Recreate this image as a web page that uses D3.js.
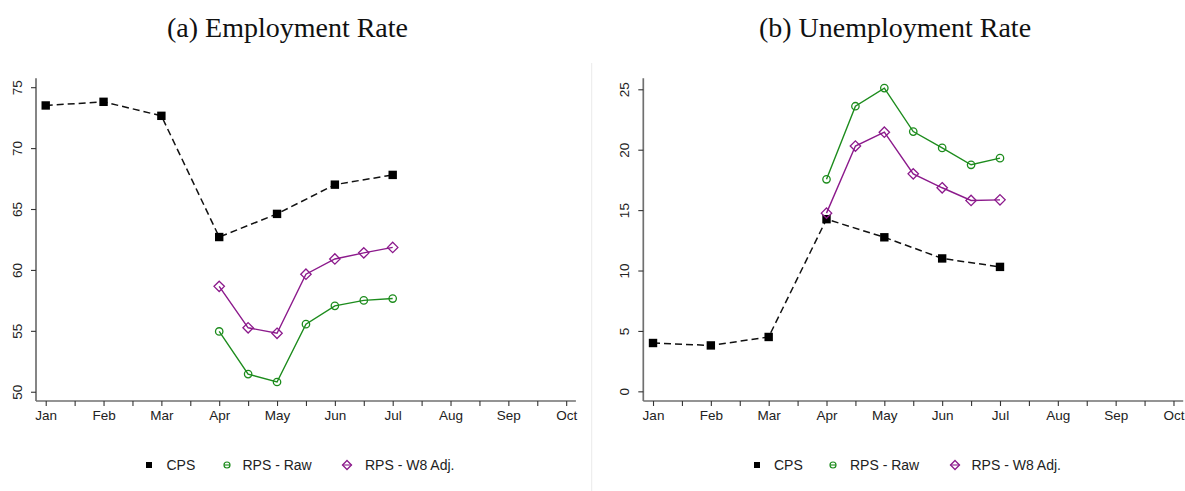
<!DOCTYPE html>
<html>
<head>
<meta charset="utf-8">
<script src="https://cdn.jsdelivr.net/npm/d3@7"></script>
<style>
  html, body { margin: 0; padding: 0; background: #fff; }
  svg { display: block; }
</style>
</head>
<body>
<svg id="chart" width="1185" height="491"></svg>
<script>
// Months on the x axis (1 = Jan ... 10 = Oct); RPS waves fall on half months
const monthLabels = ["Jan", "Feb", "Mar", "Apr", "May", "Jun", "Jul", "Aug", "Sep", "Oct"];
const cpsMonths = [1, 2, 3, 4, 5, 6, 7];
const rpsMonths = [4, 4.5, 5, 5.5, 6, 6.5, 7];

// (a) Employment rate, %
const empCPS    = [73.5, 73.8, 72.65, 62.7, 64.6, 67.0, 67.8];
const empRPSRaw = [54.95, 51.45, 50.8, 55.55, 57.05, 57.5, 57.65];
const empRPSW8  = [58.65, 55.25, 54.8, 59.65, 60.9, 61.4, 61.85];
const empTicks  = [50, 55, 60, 65, 70, 75];

// (b) Unemployment rate, %
const unCPS    = [4.0, 3.8, 4.5, 14.25, 12.75, 11.0, 10.3];
const unRPSRaw = [17.55, 23.6, 25.1, 21.5, 20.15, 18.75, 19.3];
const unRPSW8  = [14.75, 20.3, 21.45, 18.0, 16.85, 15.8, 15.85];
const unTicks  = [0, 5, 10, 15, 20, 25];

const seriesNames = ["CPS", "RPS - Raw", "RPS - W8 Adj."];
const GREEN = "#1d8c1d";
const PURPLE = "#8c1a8c";
const AXIS = "#707070";
const SANS = "'Liberation Sans', Arial, Helvetica, sans-serif";

const svg = d3.select("#chart");

// Thin separator between the two panels
svg.append("line")
  .attr("x1", 591.7).attr("x2", 591.7)
  .attr("y1", 63).attr("y2", 491)
  .attr("stroke", "#ebebeb").attr("stroke-width", 1);

function diamondPath(cx, cy, r) {
  return `M${cx},${cy - r}L${cx + r},${cy}L${cx},${cy + r}L${cx - r},${cy}Z`;
}

function panel(opts) {
  const g = svg.append("g");
  const x = d3.scaleLinear().domain([0.832, 10.168]).range([opts.left, opts.left + 539.9]);
  const y = d3.scaleLinear().domain(opts.yDomain).range([401, 78.3]);

  // Title
  g.append("text")
    .attr("x", opts.titleX).attr("y", 37)
    .attr("text-anchor", "middle")
    .attr("font-family", "'Liberation Serif', 'Times New Roman', serif")
    .attr("font-size", 28)
    .attr("fill", "#111")
    .text(opts.title);

  // X axis: major ticks on months, minor ticks at half months
  const xTickVals = d3.range(1, 10.01, 0.5);
  const xAxis = d3.axisBottom(x)
    .tickValues(xTickVals)
    .tickSize(5)
    .tickPadding(4)
    .tickFormat(d => Number.isInteger(d) ? monthLabels[d - 1] : "");
  const gx = g.append("g").attr("transform", "translate(0,401)").call(xAxis);
  gx.select(".domain").attr("d", `M${x.range()[0]},0H${x.range()[1]}`)
    .attr("stroke", AXIS).attr("stroke-width", 1.7);
  gx.selectAll(".tick line").attr("stroke", "#333").attr("stroke-width", 1.1);
  gx.selectAll(".tick text")
    .attr("font-family", SANS).attr("font-size", 13.5).attr("fill", "#222");

  // Y axis with rotated labels
  const yAxis = d3.axisLeft(y).tickValues(opts.yTicks).tickSize(5).tickFormat(d3.format("d"));
  const gy = g.append("g").attr("transform", `translate(${opts.left},0)`).call(yAxis);
  gy.select(".domain").attr("d", `M0,${y.range()[1]}V${y.range()[0]}`)
    .attr("stroke", AXIS).attr("stroke-width", 1.7);
  gy.selectAll(".tick line").attr("stroke", "#333").attr("stroke-width", 1.1);
  gy.selectAll(".tick text")
    .attr("font-family", SANS).attr("font-size", 13.5).attr("fill", "#222")
    .attr("x", null).attr("dy", null)
    .attr("text-anchor", "middle")
    .attr("transform", "translate(-13,0) rotate(-90)")
    .attr("dy", "-0.1em");

  const line = d3.line().x(d => x(d[0])).y(d => y(d[1]));

  // CPS: dashed black line with filled squares
  const cps = opts.cps.map((v, i) => [cpsMonths[i], v]);
  g.append("path").datum(cps).attr("d", line)
    .attr("fill", "none").attr("stroke", "#111").attr("stroke-width", 1.5)
    .attr("stroke-dasharray", "7,4");

  // RPS raw: green line with hollow circles
  const raw = opts.raw.map((v, i) => [rpsMonths[i], v]);
  g.append("path").datum(raw).attr("d", line)
    .attr("fill", "none").attr("stroke", GREEN).attr("stroke-width", 1.4);

  // RPS weighted: purple line with hollow diamonds
  const w8 = opts.w8.map((v, i) => [rpsMonths[i], v]);
  g.append("path").datum(w8).attr("d", line)
    .attr("fill", "none").attr("stroke", PURPLE).attr("stroke-width", 1.4);

  g.selectAll(".sq").data(cps).join("rect")
    .attr("x", d => x(d[0]) - 4.2).attr("y", d => y(d[1]) - 4.2)
    .attr("width", 8.4).attr("height", 8.4).attr("fill", "#000");

  g.selectAll(".ci").data(raw).join("circle")
    .attr("cx", d => x(d[0])).attr("cy", d => y(d[1])).attr("r", 3.7)
    .attr("fill", "none").attr("stroke", GREEN).attr("stroke-width", 1.3);

  g.selectAll(".di").data(w8).join("path")
    .attr("d", d => diamondPath(x(d[0]), y(d[1]), 5.2))
    .attr("fill", "none").attr("stroke", PURPLE).attr("stroke-width", 1.3);

  // Legend
  const lg = g.append("g").attr("font-family", SANS).attr("font-size", 14).attr("fill", "#222");
  const ly = 465;
  const lx = opts.legendX;
  lg.append("rect").attr("x", lx[0] - 3).attr("y", ly - 3).attr("width", 6).attr("height", 6).attr("fill", "#000");
  lg.append("circle").attr("cx", lx[1]).attr("cy", ly).attr("r", 3)
    .attr("fill", "none").attr("stroke", GREEN).attr("stroke-width", 1.2);
  lg.append("line").attr("x1", lx[1] - 3).attr("x2", lx[1] + 3).attr("y1", ly).attr("y2", ly)
    .attr("stroke", GREEN).attr("stroke-width", 1.1);
  lg.append("path").attr("d", diamondPath(lx[2], ly, 4.5))
    .attr("fill", "none").attr("stroke", PURPLE).attr("stroke-width", 1.3);
  lg.append("line").attr("x1", lx[2] - 4.5).attr("x2", lx[2] + 4.5).attr("y1", ly).attr("y2", ly)
    .attr("stroke", PURPLE).attr("stroke-width", 1.1);
  seriesNames.forEach((name, i) => {
    lg.append("text").attr("x", opts.legendTextX[i]).attr("y", ly + 5).text(name);
  });
}

panel({
  title: "(a) Employment Rate", titleX: 287.5, left: 36,
  yDomain: [49.24, 75.73], yTicks: empTicks,
  cps: empCPS, raw: empRPSRaw, w8: empRPSW8,
  legendX: [149, 227, 347], legendTextX: [166.5, 242.5, 365]
});

panel({
  title: "(b) Unemployment Rate", titleX: 895, left: 643.3,
  yDomain: [-0.8, 25.91], yTicks: unTicks,
  cps: unCPS, raw: unRPSRaw, w8: unRPSW8,
  legendX: [757, 833, 955], legendTextX: [774, 850, 971.5]
});
</script>
</body>
</html>
